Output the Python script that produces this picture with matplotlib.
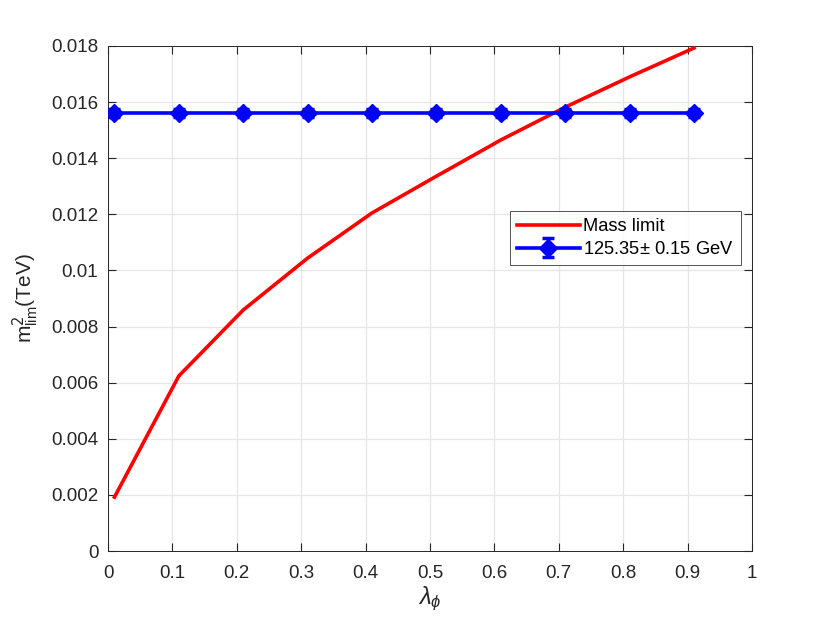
import matplotlib as mpl
mpl.use('Agg')
import matplotlib.pyplot as plt
import numpy as np

plt.rcParams['font.family'] = ['Liberation Sans', 'DejaVu Sans']
plt.rcParams['mathtext.fontset'] = 'custom'
plt.rcParams['mathtext.rm'] = 'Liberation Sans'
plt.rcParams['mathtext.it'] = 'Liberation Sans:italic'

# data
lam = [0.01, 0.11, 0.21, 0.31, 0.41, 0.51, 0.61, 0.71, 0.81, 0.91]
mass_limit = [0.00192, 0.00624, 0.00859, 0.01044, 0.01205, 0.01336, 0.01465, 0.01582, 0.01690, 0.01793]
higgs = [0.01562] * 10
higgs_err = [0.00015] * 10

fig = plt.figure(figsize=(8.3, 6.23), dpi=100)
ax = fig.add_axes([108/830, 1-551/623, 644/830, 505/623])

ax.plot(lam, mass_limit, color='#ff0000', lw=2.6, label='Mass limit', zorder=3)
ax.errorbar(lam, higgs, yerr=higgs_err, color='#0000ff', lw=2.6, marker='D', ms=9,
            mfc='#0000ff', mec='#0000ff', ecolor='#0000ff', elinewidth=2.5, capsize=4,
            capthick=2.5, label=r'125.35$\pm$ 0.15 GeV', zorder=4)

ax.set_xlim(0, 1); ax.set_ylim(0, 0.018)
ax.set_xticks(np.arange(0, 1.01, 0.1))
ax.set_xticklabels(['0', '0.1', '0.2', '0.3', '0.4', '0.5', '0.6', '0.7', '0.8', '0.9', '1'])
ax.set_yticks(np.arange(0, 0.0181, 0.002))
ax.set_yticklabels(['0', '0.002', '0.004', '0.006', '0.008', '0.01', '0.012', '0.014', '0.016', '0.018'])
ax.tick_params(direction='in', top=True, right=True, labelsize=13.5, length=6, color='#262626', labelcolor='#262626')
ax.tick_params(axis='x', pad=10)
ax.tick_params(axis='y', pad=7)
ax.grid(color='#e6e6e6', lw=0.9)
ax.set_axisbelow(True)
for s in ax.spines.values():
    s.set_color('#262626'); s.set_linewidth(0.7)

ax.set_xlabel(r'$\lambda_{\phi}$', fontsize=17, color='#262626', labelpad=2)
ax.set_ylabel(r'm$^{\mathsf{2}}_{\rm lim}$(TeV)', fontsize=15, color='#262626', labelpad=8)

leg = ax.legend(loc='upper left', bbox_to_anchor=(0.624, 0.673), fontsize=13.2, frameon=True,
                fancybox=False, edgecolor='#262626', handlelength=3.4, borderpad=0.4,
                labelspacing=0.3, handletextpad=0.2, borderaxespad=0)
leg.get_frame().set_linewidth(0.7)

plt.savefig('out.png', dpi=100)
